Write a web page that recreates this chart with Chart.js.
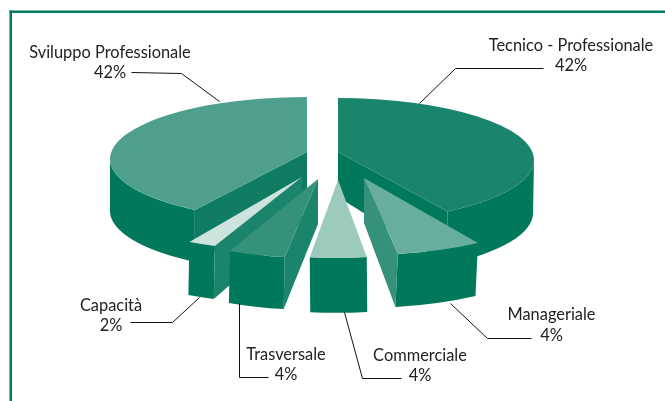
<!DOCTYPE html>
<html>
<head>
<meta charset="utf-8">
<style>html,body{margin:0;padding:0;background:#fff}canvas{display:block}</style>
<script src="https://cdn.jsdelivr.net/npm/chart.js@4"></script>
</head>
<body>
<canvas id="c" width="665" height="401"></canvas>
<script>
// Slice names and the percentages printed next to them
const categories = ["Tecnico - Professionale","Manageriale","Commerciale","Trasversale","Capacità","Sviluppo Professionale"];
const printedPercent = ["42%","4%","4%","4%","2%","42%"];
// Share of the circle each slice visibly occupies in the picture (in %)
const sliceShares = [40.56,6.81,4.72,5.14,2.41,40.36];
const topColors = ["#1b846c","#68ae9f","#9ccabd","#36917b","#cde4de","#4f9f8f"];
const edgeColors = ["#00785c","#36917b","#00785c","#1b846c","#1b846c","#0f7c63"];
const outerColor = "#00785c";

const geometry = {
  apexDepth:45,
  // each exploded slice: ellipse centre, radii, apex, wall depth, wall lean
  slices:[
    {ex:338,  ey:160,   rx:196,ry:62,ax:338,ay:152,depth:53,lean:-1},
    {ex:364.5,ey:185,   rx:203,ry:70,ax:364,ay:178,depth:53,lean:-2.5},
    {ex:335,  ey:195.8, rx:193,ry:62,ax:338,ay:180,depth:55,lean:0.5},
    {ex:308,  ey:192.6, rx:178,ry:65,ax:318,ay:179,depth:52,lean:-1},
    {ex:300.4,ey:199.3, rx:195,ry:52,ax:302,ay:177,depth:53,lean:-1},
    {ex:307,  ey:159,   rx:197,ry:62,ax:307,ay:152,depth:52,lean:0}
  ],
  order:[5,0,1,4,3,2]
};
const labelGeometry = [
  {x:571,y:[46,66],line:[[543,68],[455,68],[419,103]]},
  {x:551.5,y:[315,336],line:[[450,303],[487,338],[531,338]]},
  {x:420,y:[356,376],line:[[344,312],[362,378],[401,378]]},
  {x:286,y:[355,375],line:[[239,303],[239,377],[268,377]]},
  {x:111,y:[306,326],line:[[199,297],[172,322],[130,322]]},
  {x:110,y:[53,73],line:[[131,72],[181,73],[219,101]]}
];

const pie3d = {
  id:"pie3d",
  beforeDatasetsDraw(chart){
    const ctx = chart.ctx, g = geometry, ds = chart.data.datasets[0];
    const arcs = chart.getDatasetMeta(0).data;
    // frame
    ctx.fillStyle = "#007a60";
    ctx.fillRect(9.5,10.5,655.5,2.5);
    ctx.fillRect(9.5,10.5,2.5,390.5);
    const half = Math.PI/2;
    for(const i of g.order){
      const s = g.slices[i];
      const a0 = arcs[i].startAngle, a1 = arcs[i].endAngle;
      // outer wall
      const lo = Math.max(a0,0), hi = Math.min(a1,Math.PI);
      if(hi>lo){
        ctx.beginPath();
        ctx.ellipse(s.ex,s.ey,s.rx,s.ry,0,lo,hi);
        ctx.ellipse(s.ex+s.lean,s.ey+s.depth,s.rx,s.ry,0,hi,lo,true);
        ctx.closePath();
        ctx.fillStyle = outerColor; ctx.fill();
      }
      // radial cut wall: only the edge that faces the viewer
      const e = a1<half ? a1 : (a0>half ? a0 : null);
      if(e!==null){
        const px = s.ex+s.rx*Math.cos(e), py = s.ey+s.ry*Math.sin(e);
        ctx.beginPath();
        ctx.moveTo(s.ax,s.ay);
        ctx.lineTo(px,py);
        ctx.lineTo(px+s.lean,py+s.depth);
        ctx.lineTo(s.ax,s.ay+g.apexDepth);
        ctx.closePath();
        ctx.fillStyle = ds.borderColor[i]; ctx.fill();
      }
      // top face
      ctx.beginPath();
      ctx.moveTo(s.ax,s.ay);
      ctx.ellipse(s.ex,s.ey,s.rx,s.ry,0,a0,a1);
      ctx.closePath();
      ctx.fillStyle = ds.backgroundColor[i]; ctx.fill();
    }
    // labels and leaders
    ctx.strokeStyle="#111"; ctx.lineWidth=1;
    ctx.fillStyle="#222"; ctx.textAlign="center"; ctx.textBaseline="middle";
    ctx.font='400 16.4px Lato';
    chart.data.labels.forEach((name,i)=>{
      const L = labelGeometry[i];
      ctx.fillText(name,L.x,L.y[0]);
      ctx.fillText(printedPercent[i],L.x,L.y[1]);
      ctx.beginPath();
      L.line.forEach((p,k)=> k? ctx.lineTo(p[0]+.5,p[1]+.5):ctx.moveTo(p[0]+.5,p[1]+.5));
      ctx.stroke();
    });
    return false;
  }
};

new Chart(document.getElementById("c"),{
  type:"pie",
  data:{labels:categories,datasets:[{data:sliceShares,backgroundColor:topColors,borderColor:edgeColors}]},
  options:{responsive:false,animation:false,
    plugins:{legend:{display:false},tooltip:{enabled:false}}},
  plugins:[pie3d]
});
</script>
</body>
</html>
